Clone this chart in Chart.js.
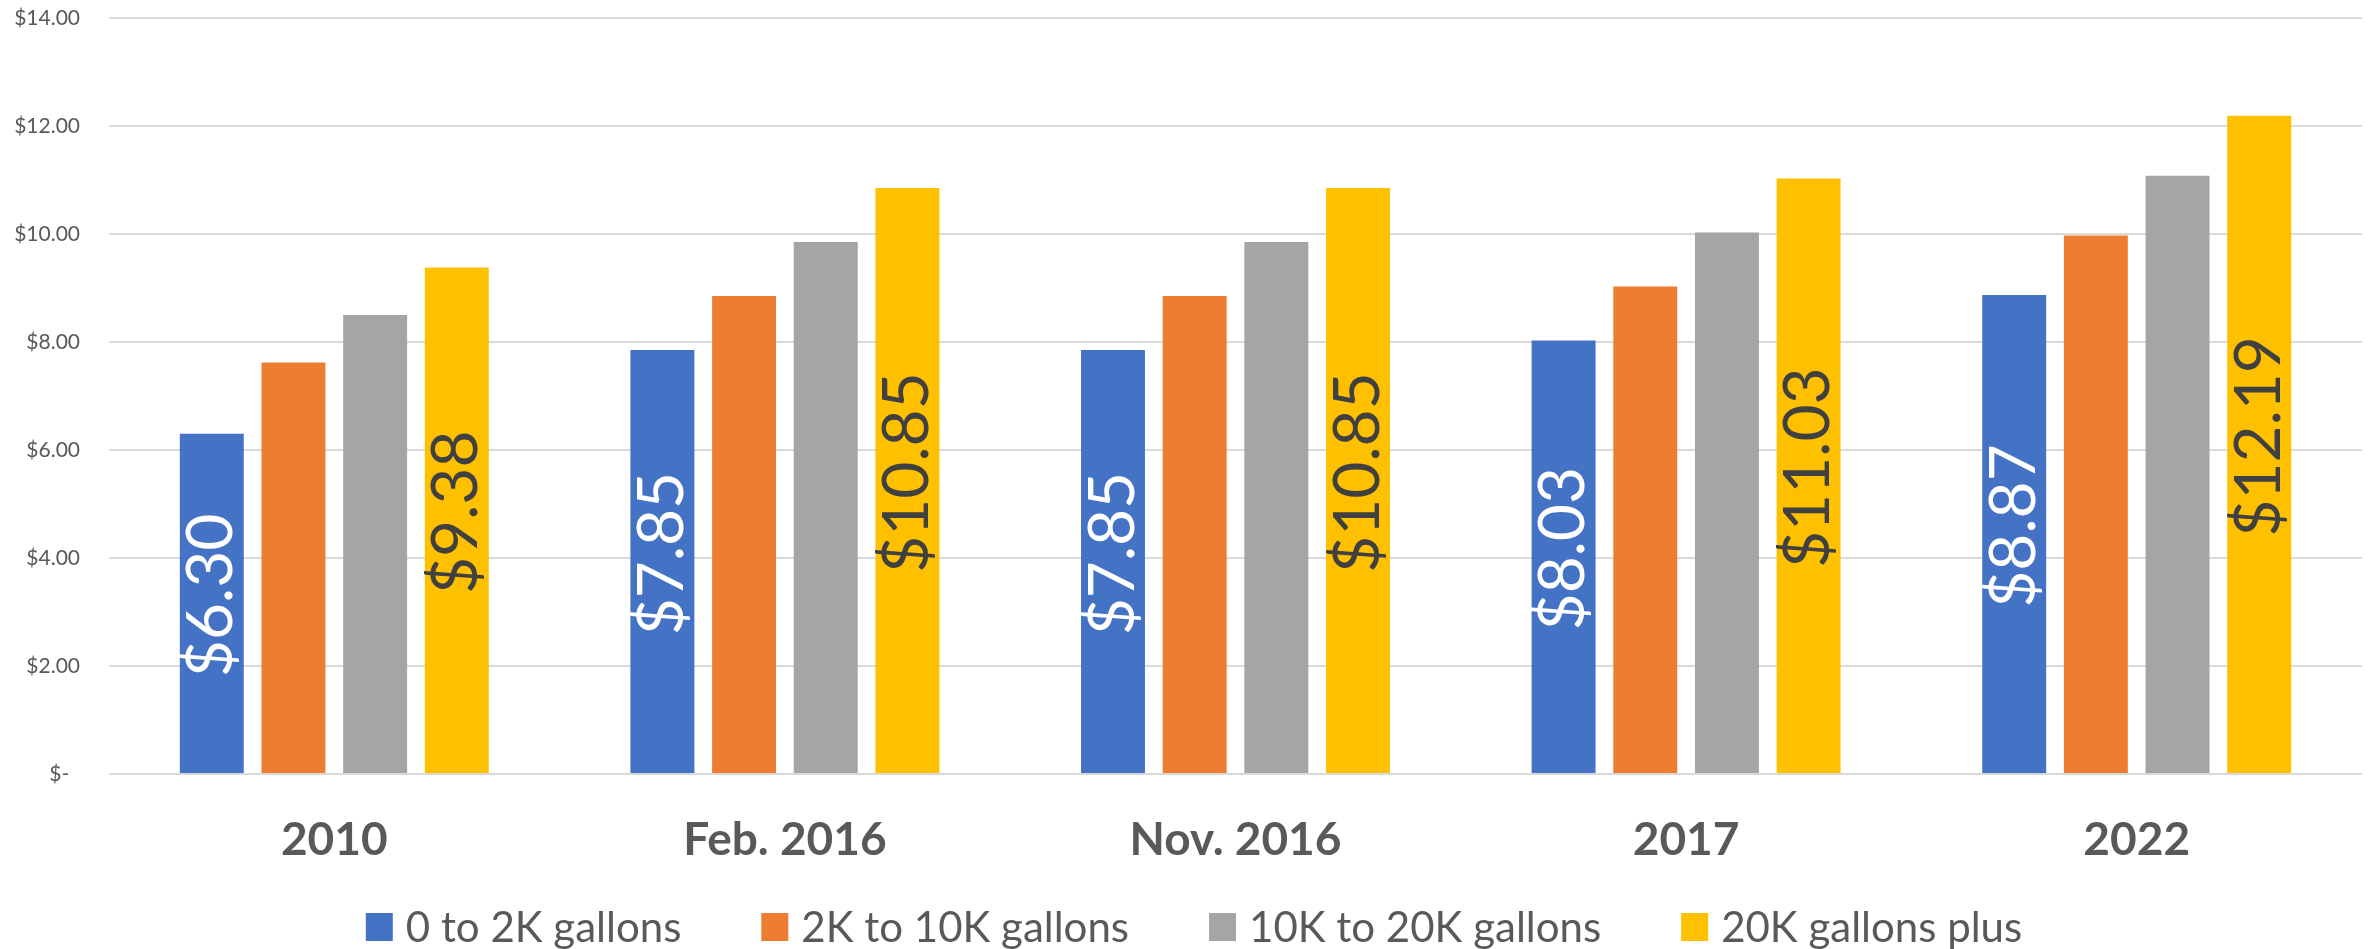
<!DOCTYPE html>
<html>
<head>
<meta charset="utf-8">
<script src="https://cdn.jsdelivr.net/npm/chart.js@4/dist/chart.umd.min.js"></script>
<style>
  html, body { margin: 0; padding: 0; background: #fff; }
  #wrap { width: 2374px; height: 949px; position: relative; }
</style>
</head>
<body>
<div id="wrap"><canvas id="chart"></canvas></div>
<script>
const categories = ['2010', 'Feb. 2016', 'Nov. 2016', '2017', '2022'];
const seriesNames = ['0 to 2K gallons', '2K to 10K gallons', '10K to 20K gallons', '20K gallons plus'];
const tier1 = [6.30, 7.85, 7.85, 8.03, 8.87];
const tier2 = [7.62, 8.85, 8.85, 9.03, 9.97];
const tier3 = [8.50, 9.85, 9.85, 10.03, 11.08];
const tier4 = [9.38, 10.85, 10.85, 11.03, 12.19];
const colors = ['#4472C4', '#ED7D31', '#A5A5A5', '#FFC000'];
// only the first and last series get value labels, like the original
const labelColors = ['#ffffff', null, null, '#404040'];

const seriesValues = [tier1, tier2, tier3, tier4];

function money(v) {
  return '$' + v.toFixed(2);
}

// draws the rotated value labels in the middle of each bar
const barLabels = {
  id: 'barLabels',
  afterDatasetsDraw(chart) {
    const ctx = chart.ctx;
    chart.data.datasets.forEach((ds, i) => {
      const color = labelColors[i];
      if (!color) return;
      const meta = chart.getDatasetMeta(i);
      meta.data.forEach((bar, j) => {
        const mid = (bar.y + bar.base) / 2 - 8;
        ctx.save();
        ctx.translate(bar.x, mid);
        ctx.rotate(-Math.PI / 2);
        ctx.font = '64px Lato';
        ctx.fillStyle = color;
        ctx.textAlign = 'center';
        ctx.textBaseline = 'middle';
        ctx.fillText(money(ds.data[j]), 0, 0);
        ctx.restore();
      });
    });
  }
};

// legend row at the bottom (built-in one uses the same padding vertically)
const bottomLegend = {
  id: 'bottomLegend',
  afterDraw(chart) {
    const ctx = chart.ctx;
    const box = 27, gap = 13, spacing = 80;
    ctx.save();
    ctx.font = '42px Lato';
    const items = chart.data.datasets.map((ds) => ({
      text: ds.label,
      color: ds.backgroundColor,
      w: ctx.measureText(ds.label).width,
    }));
    const total = items.reduce((s, it) => s + box + gap + it.w, 0) + spacing * (items.length - 1);
    let x = chart.width / 2 - total / 2 + 7;
    const y = chart.height - 22;
    ctx.textBaseline = 'middle';
    ctx.textAlign = 'left';
    items.forEach((it) => {
      ctx.fillStyle = it.color;
      ctx.fillRect(x, y - 14, box, 28);
      ctx.fillStyle = '#595959';
      ctx.fillText(it.text, x + box + gap, y + 1);
      x += box + gap + it.w + spacing;
    });
    ctx.restore();
  }
};

const config = {
  type: 'bar',
  data: {
    labels: categories,
    datasets: seriesNames.map((name, i) => ({
      label: name,
      data: seriesValues[i],
      backgroundColor: colors[i],
      borderWidth: 0,
      categoryPercentage: 0.725,
      barPercentage: 0.783,
    })),
  },
  options: {
    responsive: true,
    maintainAspectRatio: false,
    animation: false,
    layout: {
      padding: { top: 18, right: 12, left: 15, bottom: 89 },
    },
    plugins: {
      tooltip: { enabled: false },
      legend: { display: false },
    },
    scales: {
      x: {
        grid: { display: false },
        border: { display: false },
        afterFit: (scale) => {
          scale.paddingLeft = 0;
          scale.paddingRight = 0;
          scale.height = 86;
        },
        ticks: {
          color: '#595959',
          padding: 31,
          font: { family: 'Lato', size: 46, weight: 'bold', lineHeight: 1.2 },
        },
      },
      y: {
        min: 0,
        max: 14,
        grid: { color: '#d9d9d9', lineWidth: 2, drawTicks: false },
        border: { display: false },
        afterFit: (scale) => {
          scale.paddingTop = 0;
          scale.paddingBottom = 0;
          scale.width = 94;
        },
        ticks: {
          stepSize: 2,
          padding: 29,
          color: '#595959',
          font: { family: 'Lato', size: 21 },
          callback: (v) => (v === 0 ? '$-  ' : money(v)),
        },
      },
    },
  },
  plugins: [barLabels, bottomLegend],
};

const myChart = new Chart(document.getElementById('chart'), config);
</script>
</body>
</html>
